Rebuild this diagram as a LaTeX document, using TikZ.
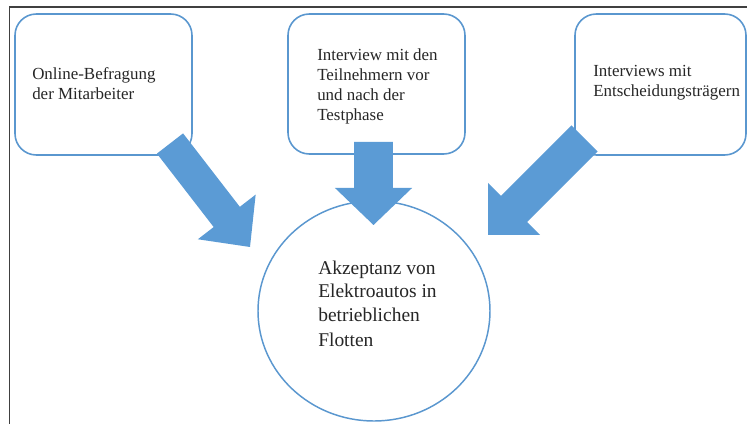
\documentclass[tikz,border=0pt]{standalone}
\usepackage{fontspec}
\setmainfont{Liberation Serif}
\usetikzlibrary{calc,shapes.geometric}

\definecolor{flowblue}{HTML}{5B9BD5}
\definecolor{edgeblue}{HTML}{5A97CF}
\definecolor{framegray}{HTML}{404040}
\definecolor{inkgray}{HTML}{262626}

% Block arrow from #1 (middle of the tail) to #2 (tip):
% #3 half shaft width, #4 half head width, #5 head length
\newcommand\flowarrow[5]{%
  \coordinate (#1-neck) at ($(#2)!#5!(#1)$);
  \fill[arrowfill]
    ($(#1)!#3!90:(#2)$) -- ($(#1-neck)!#3!90:(#2)$) --
    ($(#1-neck)!#4!90:(#2)$) -- (#2) --
    ($(#1-neck)!#4!-90:(#2)$) -- ($(#1-neck)!#3!-90:(#2)$) --
    ($(#1)!#3!-90:(#2)$) -- cycle;
}

\begin{document}
\begin{tikzpicture}[x=0.75pt,y=-0.75pt,
  sourcebox/.style={draw=edgeblue, line width=1.2pt, rounded corners=16pt,
    fill=white, inner sep=0pt},
  goalshape/.style={ellipse, draw=edgeblue, line width=1.1pt, fill=white,
    inner sep=0pt, minimum width=174pt, minimum height=165pt},
  % multi-line labels are placed by the baseline of their last line
  boxlabel/.style={anchor=base west, align=left, inner sep=0pt, text=inkgray,
    font=\fontsize{12.7pt}{15pt}\selectfont},
  goallabel/.style={anchor=base west, align=left, inner sep=0pt, text=inkgray,
    font=\fontsize{14.6pt}{18pt}\selectfont},
  arrowfill/.style={fill=flowblue}]

\useasboundingbox (0,0) rectangle (747,424);

% frame
\draw[framegray, line width=1.3pt] (9.5,430) -- (9.5,7) -- (760,7);

% sources
\node[sourcebox, minimum width=132.75pt, minimum height=105.75pt] (survey) at (103.5,84.5) {};
\node[sourcebox, minimum width=132.75pt, minimum height=105pt] (panel) at (376.5,84) {};
\node[sourcebox, minimum width=128.25pt, minimum height=105.75pt] (deciders) at (660.5,84.5) {};

% goal
\node[goalshape] (goal) at (374,311) {};

% arrows into the goal
\coordinate (a1s) at (170,143.5);
\coordinate (a1e) at (250,247);
\coordinate (a2s) at (373.5,142);
\coordinate (a2e) at (373.5,225);
\coordinate (a3s) at (584.5,138.5);
\coordinate (a3e) at (488,235);
\flowarrow{a1s}{a1e}{12.4pt}{27.4pt}{28.5pt}
\flowarrow{a2s}{a2e}{14.6pt}{28.9pt}{27.75pt}
\flowarrow{a3s}{a3e}{13.8pt}{27.6pt}{27.6pt}

% labels
\node[boxlabel] (surveytext) at (32,100) {Online-Befragung\\der Mitarbeiter};
\node[boxlabel] (paneltext) at (317,121) {Interview mit den\\Teilnehmern vor\\und nach der\\Testphase};
\node[boxlabel] (deciderstext) at (593,97) {Interviews mit\\Entscheidungsträgern};
\node[goallabel] (goaltext) at (318,346) {Akzeptanz von\\Elektroautos in\\betrieblichen\\Flotten};
\end{tikzpicture}
\end{document}
